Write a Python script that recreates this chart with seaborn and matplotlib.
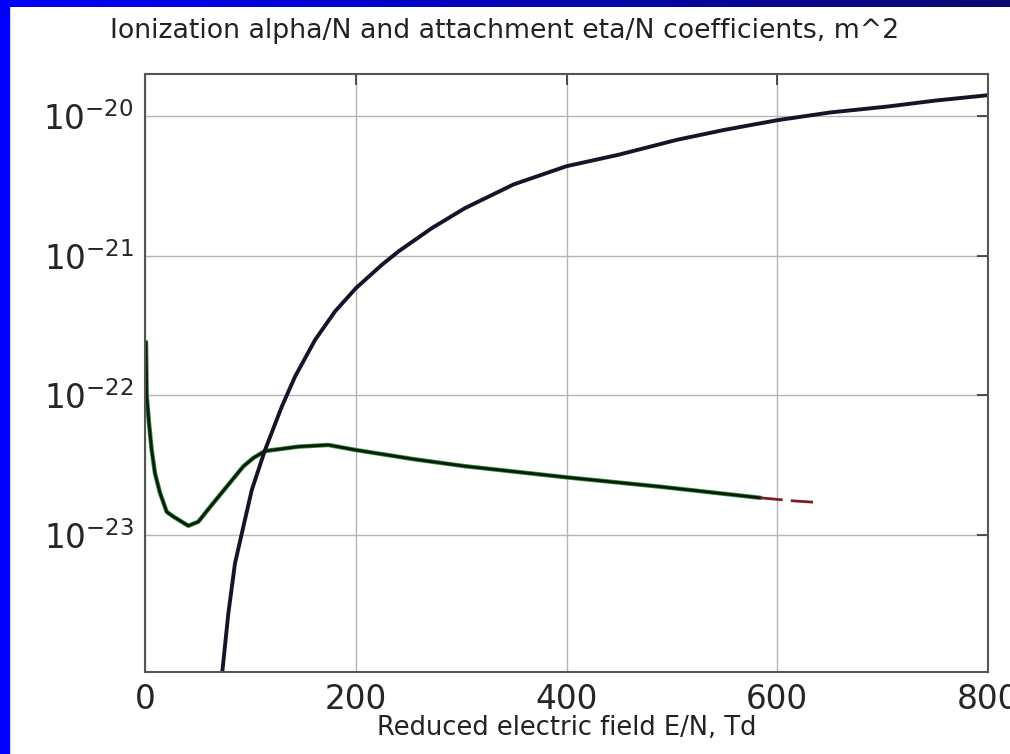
import numpy as np
import pandas as pd
import matplotlib
matplotlib.use("Agg")
import matplotlib.pyplot as plt
import matplotlib.ticker as mticker
from matplotlib.patches import Rectangle
import seaborn as sns

# Ionization coefficient alpha/N, m^2
alpha_E = [72, 73.4, 79.1, 85.4, 93.3, 101.3, 113.9, 129.8, 142.4, 161.4, 180.3, 200, 224.6, 240.4,
           272, 303.7, 350, 400, 449, 505, 550, 600, 650, 705, 750, 800]
alpha_N = [6.92e-25, 1.05e-24, 2.74e-24, 6.24e-24, 1.14e-23, 2.09e-23, 4.05e-23, 8.28e-23, 1.36e-22,
           2.49e-22, 3.98e-22, 5.83e-22, 8.57e-22, 1.07e-21, 1.57e-21, 2.19e-21, 3.24e-21, 4.37e-21,
           5.27e-21, 6.76e-21, 7.96e-21, 9.33e-21, 1.06e-20, 1.17e-20, 1.29e-20, 1.41e-20]

# Attachment coefficient eta/N, m^2
eta_E = [0.95, 1.6, 3.8, 6.3, 9.5, 14.2, 20.6, 26.9, 41.1, 50.6, 61.7, 77.5, 93.3, 102.8, 113.9,
         145.5, 174, 200, 256.3, 303.7, 400, 489, 584]
eta_N = [2.40e-22, 1.0e-22, 6.31e-23, 4.07e-23, 2.75e-23, 2.0e-23, 1.46e-23, 1.35e-23, 1.16e-23,
         1.24e-23, 1.58e-23, 2.21e-23, 3.09e-23, 3.55e-23, 3.98e-23, 4.28e-23, 4.40e-23, 4.05e-23,
         3.47e-23, 3.10e-23, 2.58e-23, 2.21e-23, 1.84e-23]

# tail of eta/N (dashed part)
tail_E = [584, 615, 625, 641]
tail_N = [1.84e-23, 1.75e-23, 1.73e-23, 1.70e-23]

xticks = [0, 200, 400, 600, 800]

alpha_df = pd.DataFrame({"E": alpha_E, "coef": alpha_N})
eta_df = pd.DataFrame({"E": eta_E, "coef": eta_N})
tail_df = pd.DataFrame({"E": tail_E, "coef": tail_N})

sns.set_style("white")
plt.rcParams["font.family"] = ["DejaVu Sans"]
plt.rcParams["axes.unicode_minus"] = False

fig = plt.figure(figsize=(10.1, 7.54), dpi=100)
ax = fig.add_axes([145 / 1010, 1 - 672 / 754, (988 - 145) / 1010, (672 - 74) / 754])

sns.lineplot(data=eta_df, x="E", y="coef", ax=ax, color="#2f8f3a", lw=3.2, sort=False)
sns.lineplot(data=eta_df, x="E", y="coef", ax=ax, color="#0c1a0e", lw=2.0, sort=False)
sns.lineplot(data=tail_df, x="E", y="coef", ax=ax, color="#7a1f24", lw=2.0, sort=False,
             linestyle=(0, (8, 3)))
sns.lineplot(data=alpha_df, x="E", y="coef", ax=ax, color="#15152a", lw=2.8, sort=False)

ax.set_yscale("log")
ax.set_xlim(0, 800)
ax.set_ylim(1.04e-24, 2.0e-20)
ax.set_xticks(xticks)
ax.yaxis.set_major_locator(mticker.LogLocator(base=10, numticks=10))
ax.yaxis.set_minor_locator(mticker.NullLocator())
ax.grid(True, color="#b4b4b4", lw=1.0)
ax.tick_params(direction="in", length=8, width=1.2, color="#333333",
               top=True, right=True, labelsize=23.5, pad=8)
for s in ax.spines.values():
    s.set_color("#555555")
    s.set_linewidth(1.5)

ax.set_xlabel("")
ax.set_ylabel("")
fig.text(567 / 1010, 1 - 728 / 754, "Reduced electric field E/N, Td",
         ha="center", va="center", fontsize=18.5, color="#222222")
fig.text(0.5, 1 - 31 / 754, "Ionization alpha/N and attachment eta/N coefficients, m^2",
         ha="center", va="center", fontsize=19.3, color="#222222")

# slide frame: blue strip on the left, gradient bar on top
fig.patches.append(Rectangle((0, 0), 9 / 1010, 1, transform=fig.transFigure,
                             color="#0000ff", zorder=5))
bar = fig.add_axes([0, 1 - 7 / 754, 1, 7 / 754])
bar.imshow(np.linspace(0, 1, 256)[None, :], aspect="auto",
           cmap=matplotlib.colors.LinearSegmentedColormap.from_list("bar", ["#0000ff", "#0a0a70"]))
bar.axis("off")

fig.savefig("out.png", dpi=100, facecolor="white")
